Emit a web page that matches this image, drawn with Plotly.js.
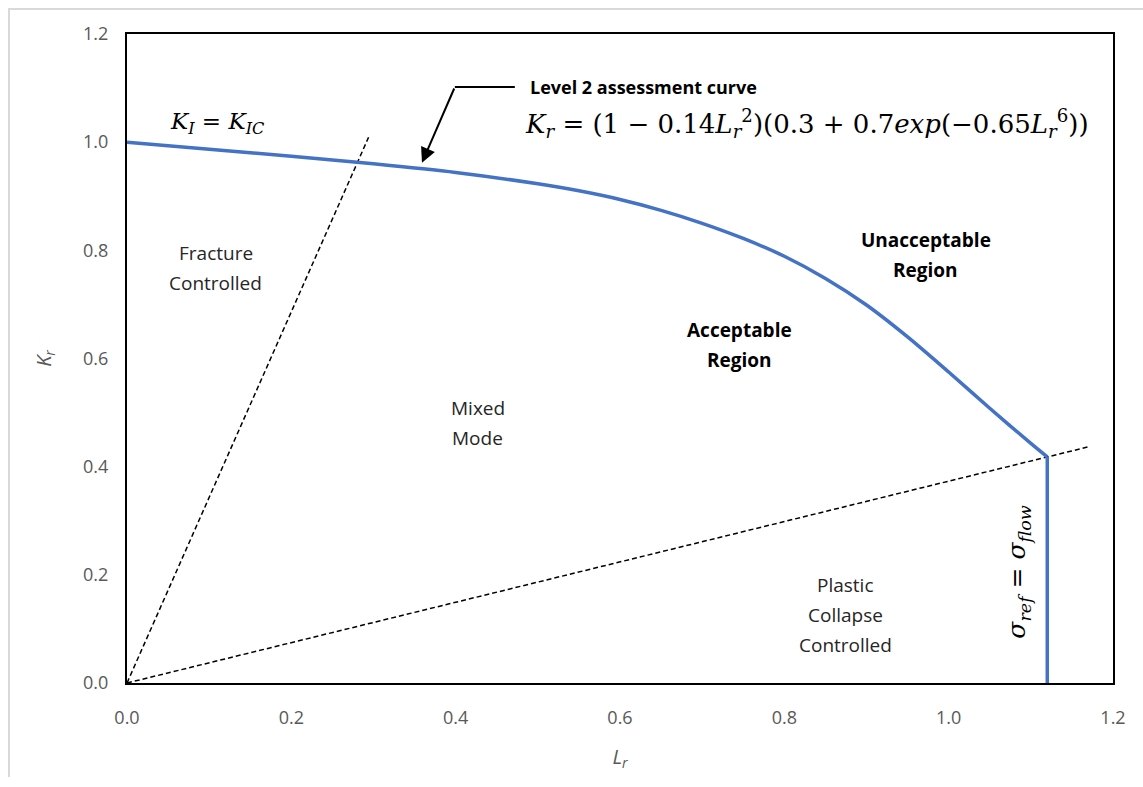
<!DOCTYPE html>
<html>
<head>
<meta charset="utf-8">
<script src="https://cdn.plot.ly/plotly-3.0.1.min.js"></script>
<style>
  html, body { margin: 0; padding: 0; background: #fff; }
  #wrap { position: relative; width: 1143px; height: 787px; }
  #chart { width: 1143px; height: 787px; }
  #frame { position: absolute; left: 8px; top: 8px; width: 1200px; height: 767px;
           border-left: 2px solid #d9d9d9; border-top: 2px solid #d9d9d9; pointer-events: none; }
</style>
</head>
<body>
<div id="wrap">
  <div id="chart"></div>
  <div id="frame"></div>
</div>
<script>
// Level 2 assessment curve
const curveLr = [0, 0.10, 0.20, 0.30, 0.40, 0.50, 0.55, 0.60, 0.65, 0.70, 0.75, 0.80, 0.85, 0.90, 0.95, 1.00, 1.05, 1.10, 1.12];
const curveKr = [1.000, 0.987, 0.974, 0.960, 0.944, 0.923, 0.910, 0.894, 0.874, 0.850, 0.822, 0.789, 0.748, 0.699, 0.640, 0.575, 0.508, 0.443, 0.418];

// Cut-off at Lr max (sigma_ref = sigma_flow)
const cutoffLr = [1.12, 1.12];
const cutoffKr = [0.418, 0.0];

// Dashed boundary lines from origin
const fractureLr = [0, 0.294];
const fractureKr = [0, 1.009];
const collapseLr = [0, 1.171];
const collapseKr = [0, 0.437];

const xTickVals = [0, 0.2, 0.4, 0.6, 0.8, 1.0, 1.2];
const xTickText = ['0.0', '0.2', '0.4', '0.6', '0.8', '1.0', '1.2'];
const yTickVals = [0, 0.2, 0.4, 0.6, 0.8, 1.0, 1.2];
const yTickText = ['0.0', '0.2', '0.4', '0.6', '0.8', '1.0', '1.2'];

const sansFont = '"Open Sans", Lato, sans-serif';
const mathFont = '"DejaVu Serif", "Liberation Serif", serif';
const textCol = '#262626';
const blue = '#4472C4';

const traces = [
  { x: fractureLr, y: fractureKr, mode: 'lines', type: 'scatter',
    line: { color: '#000', width: 1.5, dash: '5px,3px' }, hoverinfo: 'skip', showlegend: false },
  { x: collapseLr, y: collapseKr, mode: 'lines', type: 'scatter',
    line: { color: '#000', width: 1.5, dash: '5px,3px' }, hoverinfo: 'skip', showlegend: false },
  { x: curveLr, y: curveKr, mode: 'lines', type: 'scatter',
    line: { color: blue, width: 3.5, shape: 'spline', smoothing: 0.8 }, showlegend: false },
  { x: cutoffLr, y: cutoffKr, mode: 'lines', type: 'scatter',
    line: { color: blue, width: 3.5 }, showlegend: false }
];

function ann(x, y, text, opts) {
  return Object.assign({ x: x, y: y, xref: 'x', yref: 'y', text: text, showarrow: false,
    font: { family: sansFont, size: 19, color: textCol } }, opts || {});
}
const bold = { font: { family: sansFont, size: 19, color: '#000' } };

const annotations = [
  ann(0.110, 1.036, '<i>K</i><sub><i>I</i></sub> = <i>K</i><sub><i>IC</i></sub>',
      { font: { family: mathFont, size: 23, color: '#000' } }),
  ann(0.488, 1.102, '<b>Level 2 assessment curve</b>',
      { xanchor: 'left', font: { family: sansFont, size: 18, color: '#000' } }),
  ann(0.482, 1.034,
      '<i>K</i><sub><i>r</i></sub> = (1 − 0.14<i>L</i><sub><i>r</i></sub><sup>2</sup>)(0.3 + 0.7<i>exp</i>(−0.65<i>L</i><sub><i>r</i></sub><sup>6</sup>))',
      { xanchor: 'left', font: { family: mathFont, size: 26, color: '#000' } }),
  ann(0.108, 0.795, 'Fracture'),
  ann(0.108, 0.740, 'Controlled'),
  ann(0.427, 0.508, 'Mixed'),
  ann(0.427, 0.453, 'Mode'),
  ann(0.746, 0.653, '<b>Acceptable</b>', bold),
  ann(0.746, 0.597, '<b>Region</b>', bold),
  ann(0.972, 0.819, '<b>Unacceptable</b>', bold),
  ann(0.972, 0.764, '<b>Region</b>', bold),
  ann(0.874, 0.181, 'Plastic'),
  ann(0.874, 0.126, 'Collapse'),
  ann(0.874, 0.070, 'Controlled'),
  ann(1.085, 0.205, '<i>σ</i><sub><i>ref</i></sub> = <i>σ</i><sub><i>flow</i></sub>',
      { textangle: -90, font: { family: mathFont, size: 25, color: '#000' } }),
  // arrow pointing to the curve
  { x: 0.359, y: 0.962, xref: 'x', yref: 'y', ax: 0.399, ay: 1.102, axref: 'x', ayref: 'y',
    showarrow: true, arrowhead: 2, arrowsize: 1.5, arrowwidth: 2, arrowcolor: '#000', text: '' }
];

const shapes = [
  { type: 'line', xref: 'x', yref: 'y', x0: 0.399, y0: 1.102, x1: 0.472, y1: 1.102,
    line: { color: '#000', width: 2 } }
];

const axisCommon = {
  showgrid: false, zeroline: false, showline: true, mirror: true,
  linecolor: '#000', linewidth: 2,
  ticks: 'outside', tickcolor: 'rgba(0,0,0,0)',
  tickfont: { family: sansFont, size: 18, color: '#595959' }
};

const layout = {
  width: 1143, height: 787,
  margin: { l: 127, r: 30, t: 34, b: 104 },
  paper_bgcolor: '#fff', plot_bgcolor: '#fff',
  xaxis: Object.assign({}, axisCommon, {
    range: [0, 1.2], tickvals: xTickVals, ticktext: xTickText, ticklen: 17,
    title: { text: '<i>L<sub>r</sub></i>', standoff: 22,
             font: { family: sansFont, size: 20, color: '#595959' } }
  }),
  yaxis: Object.assign({}, axisCommon, {
    range: [0, 1.2], tickvals: yTickVals, ticktext: yTickText, ticklen: 13,
    title: { text: '<i>K<sub>r</sub></i>', standoff: 26,
             font: { family: sansFont, size: 20, color: '#595959' } }
  }),
  annotations: annotations,
  shapes: shapes,
  showlegend: false
};

Plotly.newPlot('chart', traces, layout, { displayModeBar: false, staticPlot: true });
</script>
</body>
</html>
